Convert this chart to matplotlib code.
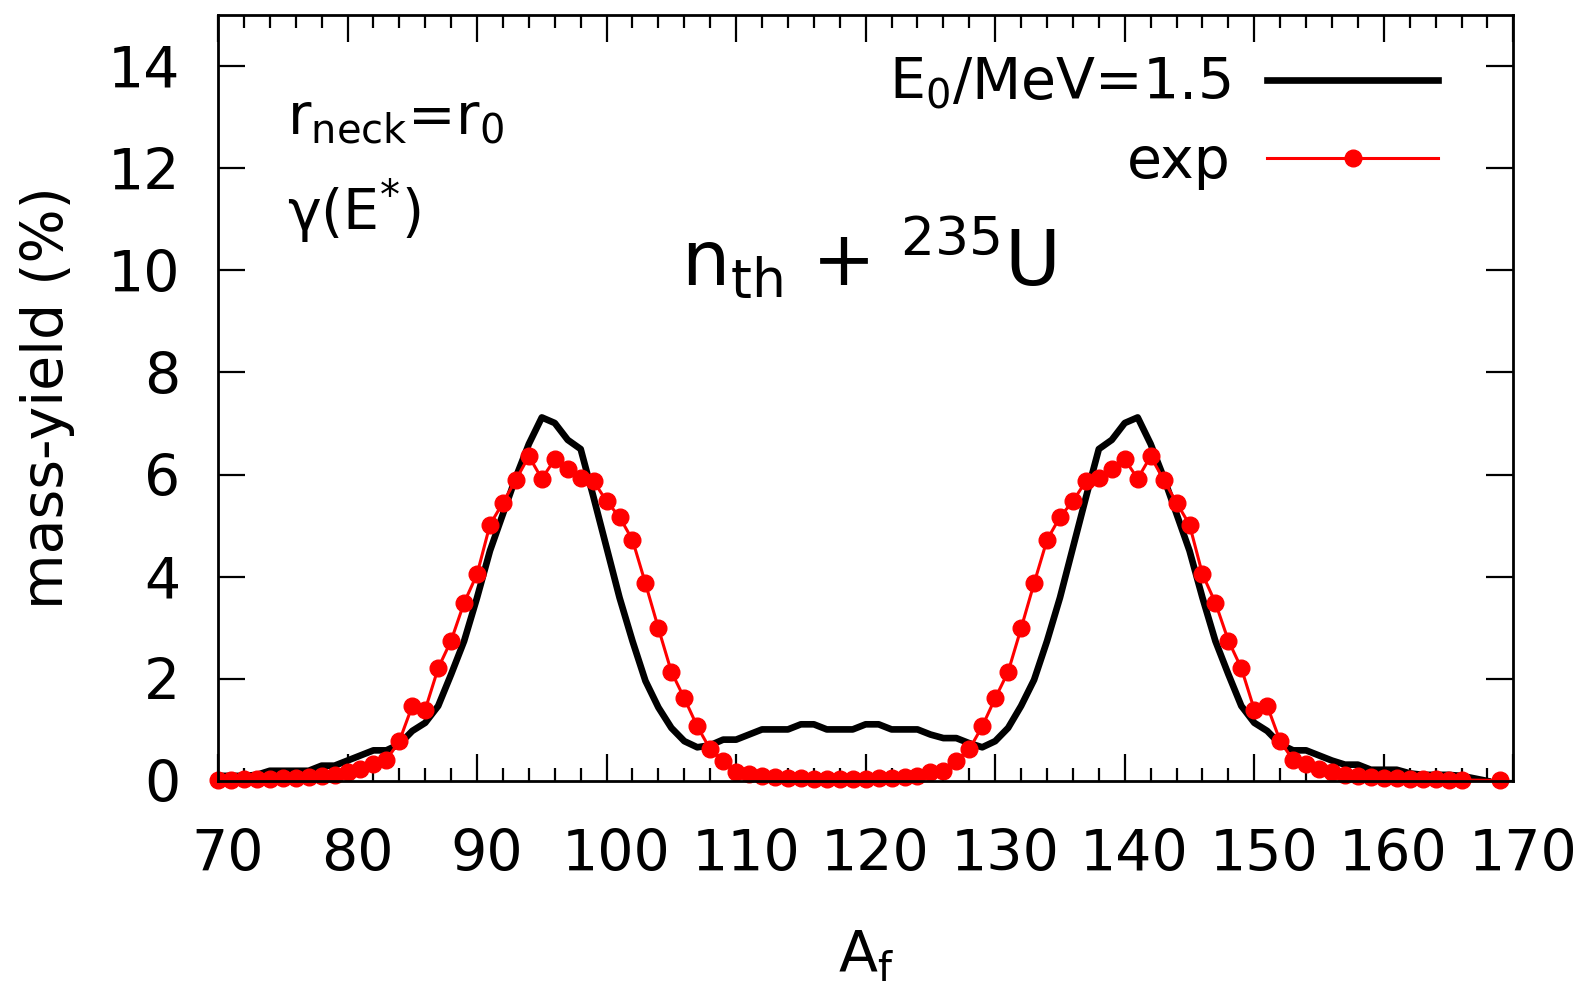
import numpy as np
import matplotlib
matplotlib.use("Agg")
import matplotlib.pyplot as plt
from matplotlib.transforms import ScaledTranslation

plt.rcParams['font.family'] = ['DejaVu Sans']
plt.rcParams['mathtext.default'] = 'regular'

# theory, E0 = 1.5 MeV, A = 70..168
a_calc = np.arange(70, 169)
y_calc = [
    0.10, 0.10, 0.10, 0.12, 0.20, 0.20, 0.20, 0.20, 0.30, 0.30,   # 70-79
    0.40, 0.50, 0.60, 0.60, 0.72, 0.98, 1.14, 1.47, 2.09, 2.74,   # 80-89
    3.59, 4.51, 5.23, 5.95, 6.60, 7.12, 7.01, 6.68, 6.50, 5.55,   # 90-99
    4.57, 3.59, 2.74, 1.96, 1.44, 1.04, 0.78, 0.66, 0.70, 0.81,   # 100-109
    0.81, 0.91, 1.01, 1.01, 1.01, 1.11, 1.11, 1.01, 1.01, 1.01,   # 110-119
    1.11, 1.11, 1.01, 1.01, 1.01, 0.91, 0.84, 0.84, 0.74, 0.66,   # 120-129
    0.78, 1.04, 1.47, 1.98, 2.74, 3.59, 4.57, 5.55, 6.50, 6.68,   # 130-139
    7.01, 7.12, 6.60, 5.95, 5.23, 4.51, 3.59, 2.74, 2.09, 1.47,   # 140-149
    1.14, 0.98, 0.72, 0.60, 0.60, 0.50, 0.40, 0.32, 0.32, 0.22,   # 150-159
    0.22, 0.22, 0.15, 0.12, 0.12, 0.12, 0.10, 0.05, 0.00,         # 160-168
]

# experimental yields
a_exp = list(range(70, 167)) + [169]
y_exp = [
    0.02, 0.02, 0.03, 0.03, 0.04, 0.05, 0.06, 0.07, 0.09, 0.12,   # 70-79
    0.17, 0.24, 0.34, 0.41, 0.78, 1.47, 1.40, 2.21, 2.75, 3.49,   # 80-89
    4.05, 5.02, 5.45, 5.90, 6.36, 5.92, 6.30, 6.11, 5.94, 5.87,   # 90-99
    5.48, 5.17, 4.72, 3.87, 2.99, 2.14, 1.62, 1.07, 0.62, 0.40,   # 100-109
    0.17, 0.14, 0.10, 0.07, 0.06, 0.05, 0.04, 0.04, 0.04, 0.04,   # 110-119
    0.04, 0.05, 0.06, 0.07, 0.10, 0.18, 0.20, 0.40, 0.62, 1.07,   # 120-129
    1.62, 2.14, 2.99, 3.87, 4.72, 5.17, 5.48, 5.87, 5.94, 6.11,   # 130-139
    6.30, 5.92, 6.36, 5.90, 5.45, 5.02, 4.05, 3.49, 2.75, 2.21,   # 140-149
    1.40, 1.47, 0.78, 0.41, 0.34, 0.24, 0.17, 0.12, 0.09, 0.07,   # 150-159
    0.06, 0.05, 0.04, 0.03, 0.03, 0.02, 0.02,                     # 160-166
    0.01,                                                          # 169
]

x_ticks = np.arange(70, 171, 10)
y_ticks = np.arange(0, 15, 2)

fig = plt.figure(figsize=(15.83, 9.83), dpi=100)
ax = fig.add_axes([0.1377, 0.2055, 0.8183, 0.7792])

ax.plot(a_calc, y_calc, color='black', lw=4.8, label='E$_0$/MeV=1.5')
ax.plot(a_exp, y_exp, color='red', lw=2.2, marker='o', markersize=12,
        clip_on=False, label='exp')

ax.set_xlim(70, 170)
ax.set_ylim(0, 15)
ax.set_xticks(x_ticks)
ax.set_xticks(np.arange(70, 171, 2), minor=True)
ax.set_yticks(y_ticks)

for s in ax.spines.values():
    s.set_linewidth(2)
    s.set_zorder(3)

ax.tick_params(which='both', direction='in', top=True, right=True, width=1.6)
ax.tick_params(which='major', length=19.5)
ax.tick_params(which='minor', length=9.5)
ax.tick_params(axis='x', labelsize=41, pad=34)
ax.tick_params(axis='y', labelsize=41, pad=27)

# x tick labels sit a little right of their ticks in the original
shift = ScaledTranslation(6.8 / 72, 0, fig.dpi_scale_trans)
for lab in ax.get_xticklabels():
    lab.set_transform(lab.get_transform() + shift)

ax.set_xlabel('A$_f$', fontsize=41, labelpad=33)
ax.set_ylabel('mass-yield (%)', fontsize=41, labelpad=24)

ax.text(0.053, 0.845, 'r$_{neck}$=r$_0$', transform=ax.transAxes,
        fontsize=41, va='baseline', ha='left')
ax.text(0.053, 0.718, 'γ(E$^{*}$)', transform=ax.transAxes,
        fontsize=41, va='baseline', ha='left')
ax.text(0.502, 0.646, 'n$_{th}$ + $^{235}$U', transform=ax.transAxes,
        fontsize=55, va='baseline', ha='center')

ax.legend(loc='upper right', bbox_to_anchor=(0.942, 0.947), frameon=False,
          markerfirst=False, fontsize=41, handlelength=3.0,
          handletextpad=0.65, labelspacing=0.4, borderpad=0,
          borderaxespad=0)

fig.savefig('out.png', dpi=100)
